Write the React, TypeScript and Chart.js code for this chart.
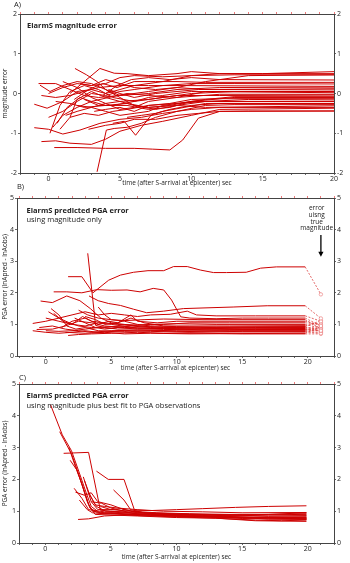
import React, { useEffect, useRef } from 'react';
import { Chart, registerables } from 'chart.js';
Chart.register(...registerables);

type Pt = [number, number];

const FONT = '"Open Sans", "DejaVu Sans", sans-serif';

// ---------- tick labels ----------
const magnitudeTicks = [-2, -1, 0, 1, 2];
const pgaTicks = [0, 1, 2, 3, 4, 5];
const timeLabelTicks = [0, 5, 10, 15, 20];

// ---------- Panel A : magnitude error vs time ----------
const magnitudeErrorSeries: Pt[][] = [
  [[-1.0, -0.27], [-0.1, -0.37], [1, -0.2], [2, 0.05], [3, 0.1], [4, 0.0], [5, 0.1], [6, 0.2], [8, 0.3], [10, 0.45], [12, 0.5], [15, 0.5], [20, 0.55]],
  [[-0.6, 0.21], [0.1, 0.05], [1, 0.2], [2, 0.3], [3, 0.25], [4, 0.1], [5, -0.05], [7, 0.05], [9, 0.15], [11, 0.3], [14, 0.45], [20, 0.47]],
  [[0.1, -1.0], [0.8, -0.3], [1.5, 0.05], [2.5, 0.2], [3.5, 0.1], [4.5, -0.1], [6, -0.2], [8, -0.1], [10, 0.0], [13, 0.05], [20, 0.05]],
  [[-1.0, -0.86], [0, -0.9], [1, -1.02], [2.2, -0.92], [3.6, -0.75], [5, -0.65], [6.5, -0.6], [8, -0.5], [10, -0.4], [12, -0.35], [20, -0.35]],
  [[-0.5, -1.21], [0.5, -1.19], [1.5, -1.25], [3, -1.28], [4, -1.15], [5, -0.95], [6.5, -0.8], [8, -0.7], [10, -0.55], [12, -0.4], [20, -0.37]],
  [[0.4, -1.36], [2, -1.36], [4, -1.38], [6, -1.38], [7.3, -1.4], [8.5, -1.42], [9.4, -1.17], [10.5, -0.62], [12, -0.45], [14, -0.44], [20, -0.44]],
  [[3.4, -1.97], [4.05, -0.92], [4.6, -0.88], [5.5, -0.85], [6.5, -0.75], [7.5, -0.6], [9, -0.45], [11, -0.3], [13, -0.28], [20, -0.28]],
  [[1.85, 0.63], [2.66, 0.47], [3.4, 0.3], [4, 0.1], [5, -0.1], [6, -0.3], [7, -0.35], [9, -0.3], [11, -0.2], [14, -0.15], [20, -0.16]],
  [[1.5, 0.0], [2.5, 0.3], [3.6, 0.63], [4.6, 0.51], [5.5, 0.5], [7, 0.45], [9, 0.5], [10, 0.55], [12, 0.5], [15, 0.5], [20, 0.5]],
  [[4.5, -0.75], [5.3, -0.7], [6.1, -1.05], [7.2, -0.54], [8, -0.45], [9.5, -0.35], [11, -0.25], [20, -0.25]],
  [[-0.7, 0.25], [0.5, 0.25], [1.5, 0.1], [2.5, -0.05], [3.5, -0.1], [5, -0.05], [7, 0.0], [9, 0.1], [12, 0.15], [20, 0.16]],
  [[0.5, -0.2], [1.5, -0.25], [2.5, -0.35], [4, -0.3], [5.5, -0.25], [7, -0.35], [8.5, -0.3], [10, -0.2], [13, -0.1], [20, -0.1]],
  [[1, 0.3], [2, 0.15], [3, -0.1], [4, -0.25], [5, -0.2], [6, -0.3], [7.5, -0.4], [9, -0.3], [11, -0.35], [20, -0.31]],
  [[0, -0.6], [1, -0.45], [2, -0.2], [3, 0.0], [4, -0.05], [5, 0.05], [6, 0.1], [8, 0.2], [10, 0.25], [13, 0.25], [20, 0.24]],
  [[1.5, -0.6], [2.5, -0.5], [3.5, -0.55], [4.5, -0.45], [5.5, -0.4], [7, -0.3], [9, -0.25], [11, -0.2], [20, -0.2]],
  [[2.2, 0.25], [3, 0.2], [4, 0.35], [5, 0.25], [6, 0.15], [7.5, 0.1], [9, 0.15], [11, 0.1], [20, 0.09]],
  [[0.8, -0.9], [1.5, -0.6], [2, -0.15], [3, 0.05], [4, -0.1], [5, -0.2], [7, -0.15], [9, -0.05], [12, -0.05], [20, -0.04]],
  [[3.8, -0.05], [4.8, 0.2], [5.8, 0.35], [7, 0.4], [8.5, 0.35], [10, 0.4], [12, 0.35], [20, 0.34]],
  [[2.5, -0.15], [3.5, -0.3], [4.5, -0.3], [6, -0.2], [7, -0.1], [8, -0.05], [10, 0.05], [20, 0.02]],
  [[-0.5, -0.05], [0.5, -0.1], [1.5, -0.05], [2.5, 0.05], [3.5, 0.15], [5, 0.2], [7, 0.2], [9, 0.2], [20, 0.18]],
  [[3.2, -0.45], [4, -0.4], [5, -0.35], [6, -0.45], [7, -0.3], [8.5, -0.25], [10, -0.15], [12, -0.13], [20, -0.13]],
  [[1.2, -0.55], [2, -0.45], [3, -0.35], [4, -0.45], [5, -0.55], [6, -0.5], [7, -0.45], [8, -0.3], [9, -0.25], [11, -0.15], [13, -0.08], [20, -0.08]],
  [[0.3, -0.85], [1, -0.55], [2, -0.35], [3, -0.2], [4, -0.3], [5.5, -0.3], [7, -0.4], [8.5, -0.35], [10, -0.2], [20, -0.2]],
  [[2, -0.3], [3, -0.35], [4, -0.25], [5, -0.4], [6, -0.35], [7, -0.2], [9, -0.1], [11, 0.05], [20, 0.05]],
  [[4.2, 0.1], [5, 0.0], [6, -0.1], [7.5, 0.0], [9, 0.05], [10.5, 0.1], [20, 0.12]],
  [[2.8, -0.9], [4, -0.8], [5, -0.75], [6, -0.65], [7.5, -0.65], [9, -0.55], [10.5, -0.5], [12, -0.45], [20, -0.44]],
  [[0, 0.0], [1, 0.15], [2, 0.25], [3, 0.2], [4, 0.25], [5, 0.4], [6, 0.45], [8, 0.42], [10, 0.45], [13, 0.47], [20, 0.47]],
  [[0.6, -0.75], [1.3, -0.35], [2.2, -0.1], [3, -0.2], [4.2, -0.1], [5.5, 0.0], [7, -0.05], [9, -0.1], [12, -0.02], [20, -0.02]],
  [[5.5, -0.6], [6.5, -0.55], [7.5, -0.5], [8.5, -0.4], [10, -0.3], [12, -0.25], [20, -0.25]],
  [[1.8, -0.15], [2.8, 0.1], [3.8, 0.25], [4.8, 0.15], [6, 0.3], [7.5, 0.3], [9, 0.3], [11, 0.28], [20, 0.28]],
];

// ---------- Panel B : PGA error, magnitude only ----------
const pgaMagOnlySeries: Pt[][] = [
  [[1.7, 2.51], [2.75, 2.51], [3.6, 2.0], [4.8, 2.4], [5.7, 2.56], [6.7, 2.65], [7.8, 2.7], [9, 2.7], [9.75, 2.83], [10.8, 2.83], [11.8, 2.72], [12.8, 2.64], [13.8, 2.64], [15.3, 2.65], [16.4, 2.78], [17.6, 2.82], [19.8, 2.82]],
  [[3.2, 3.25], [3.8, 0.97], [4.5, 0.9], [5.5, 0.85], [7, 0.86], [9, 0.84], [12, 0.83], [16, 0.84], [19.8, 0.84]],
  [[0.6, 2.03], [1.6, 2.03], [2.75, 2.0], [3.9, 2.1], [5, 2.08], [6.2, 2.09], [7.2, 2.03], [8.2, 2.14], [9, 2.09], [9.6, 1.77], [10.3, 1.24], [11, 1.2], [13, 1.18], [15, 1.2], [17, 1.2], [19.8, 1.2]],
  [[-0.4, 1.74], [0.5, 1.69], [1.6, 1.9], [2.6, 1.75], [3.4, 1.5], [4.2, 1.2], [5, 1.05], [6, 1.0], [7, 0.95], [9, 0.9], [12, 0.88], [15, 0.85], [19.8, 0.85]],
  [[3.3, 1.9], [4.0, 1.75], [4.8, 1.66], [5.7, 1.6], [6.7, 1.48], [7.7, 1.37], [9, 1.42], [10.5, 1.5], [12, 1.52], [14.3, 1.55], [16.9, 1.59], [19.8, 1.59]],
  [[-1, 1.03], [0, 1.1], [1, 1.2], [2, 1.3], [3, 1.4], [4, 1.3], [5, 1.35], [6, 1.3], [7, 1.25], [8, 1.3], [9.5, 1.32], [10.8, 1.42], [11.5, 1.3], [13, 1.27], [16, 1.27], [19.8, 1.27]],
  [[-0.7, 0.84], [0.5, 0.85], [1.5, 0.95], [2.5, 1.1], [3.5, 1.05], [4.5, 0.95], [6, 0.9], [8, 0.92], [10, 0.9], [12, 0.88], [16, 0.9], [19.8, 0.9]],
  [[0.4, 1.5], [1, 1.3], [1.6, 0.95], [2.3, 0.85], [3, 0.9], [4, 0.8], [6, 0.78], [8, 0.8], [10, 0.78], [14, 0.76], [19.8, 0.76]],
  [[0.6, 1.35], [1.3, 1.1], [2, 1.0], [2.8, 1.25], [3.5, 1.1], [4.5, 1.05], [5.5, 1.0], [7, 0.98], [9, 1.0], [11, 1.05], [14, 1.05], [19.8, 1.05]],
  [[1.7, 0.65], [2.5, 0.68], [3.5, 0.7], [5, 0.72], [7, 0.75], [9, 0.72], [12, 0.72], [15, 0.7], [19.8, 0.7]],
  [[0, 0.8], [1, 0.78], [2, 0.8], [3, 0.85], [4, 0.9], [5, 0.88], [6.5, 0.95], [8, 0.9], [10, 0.85], [13, 0.82], [19.8, 0.82]],
  [[-1, 0.8], [0, 0.75], [1, 0.72], [2, 0.75], [3, 0.8], [4, 0.75], [6, 0.8], [8, 0.78], [11, 0.75], [15, 0.78], [19.8, 0.78]],
  [[1.2, 0.9], [2, 1.1], [3, 1.2], [4, 1.0], [4.8, 1.1], [5.5, 1.05], [6.5, 1.2], [7.5, 1.05], [9, 0.95], [11, 0.95], [14, 0.95], [19.8, 0.96]],
  [[2.2, 1.2], [3, 1.05], [3.8, 0.9], [4.5, 0.85], [5.5, 0.9], [7, 0.85], [9, 0.88], [12, 0.9], [19.8, 0.92]],
  [[0.2, 1.4], [1, 1.2], [1.8, 1.05], [2.5, 0.95], [3.5, 0.9], [4.5, 0.92], [6, 0.95], [8, 1.0], [10, 1.02], [13, 1.0], [19.8, 1.0]],
  [[3, 1.25], [3.8, 1.15], [4.5, 1.0], [5.5, 1.05], [6.5, 1.3], [7, 1.1], [8.5, 1.05], [10, 1.1], [12, 1.1], [19.8, 1.1]],
  [[-0.5, 0.9], [0.5, 0.95], [1.5, 0.85], [2.5, 0.8], [3.5, 0.75], [5, 0.8], [7, 0.82], [10, 0.8], [14, 0.8], [19.8, 0.8]],
  [[4, 1.55], [4.5, 1.3], [5, 1.15], [6, 1.1], [7, 1.0], [8, 0.95], [10, 0.93], [13, 0.92], [19.8, 0.93]],
  [[1.5, 0.75], [3, 0.72], [4.5, 0.75], [6, 0.7], [8, 0.72], [11, 0.7], [19.8, 0.72]],
  [[2.5, 1.45], [3.2, 1.3], [4, 1.2], [5, 1.15], [6, 1.12], [7.5, 1.15], [9, 1.17], [12, 1.15], [19.8, 1.15]],
  [[0, 1.2], [1, 1.1], [2, 1.0], [3, 0.95], [4, 1.05], [5, 1.0], [7, 0.88], [9, 0.87], [12, 0.86], [19.8, 0.87]],
];
// error using true magnitude (plotted at trueMagTime), one per series above
const trueMagTime = 21;
const pgaTrueMagError = [1.95, 0.8, 0.95, 0.8, 1.19, 1.1, 0.85, 0.72, 1.0, 0.7, 0.9, 0.75, 1.05, 0.78, 0.88, 0.98, 0.82, 1.12, 0.92, 0.86, 0.95];

// ---------- Panel C : PGA error, magnitude + best fit ----------
const pgaBestFitSeries: Pt[][] = [
  [[0.4, 4.35], [1.3, 3.4], [2.0, 2.9], [2.6, 2.2], [3.1, 1.6], [3.5, 1.15], [4.2, 0.93], [5, 0.95], [6, 0.9], [8, 0.88], [10, 0.85], [12, 0.82], [15, 0.8], [17, 0.75], [19.9, 0.75]],
  [[1.1, 3.5], [2.0, 2.8], [2.6, 2.1], [3.2, 1.3], [3.6, 1.0], [4.5, 0.95], [6, 0.92], [8, 0.9], [11, 0.9], [14, 0.88], [17, 0.85], [19.9, 0.86]],
  [[1.4, 2.82], [3.3, 2.85], [4.2, 1.03], [5, 1.0], [6.5, 0.95], [9, 0.92], [12, 0.9], [15, 0.88], [19.9, 0.9]],
  [[3.9, 2.26], [4.8, 2.0], [6.0, 2.0], [6.8, 1.03], [8, 1.02], [10, 1.05], [12, 1.08], [14.5, 1.12], [17, 1.15], [19.9, 1.17]],
  [[5.2, 1.67], [6.0, 1.35], [6.5, 1.05], [7.5, 0.95], [9.5, 0.9], [12, 0.85], [15, 0.8], [18, 0.78], [19.9, 0.78]],
  [[2.2, 1.72], [2.8, 1.4], [3.3, 1.05], [4.5, 0.98], [6, 0.95], [8, 0.9], [11, 0.85], [14, 0.82], [17, 0.8], [19.9, 0.82]],
  [[2.9, 2.08], [3.5, 1.3], [4, 1.05], [5, 1.05], [6.5, 1.0], [8.5, 0.95], [11, 0.92], [14, 0.9], [17, 0.9], [19.9, 0.92]],
  [[2.5, 0.74], [3.3, 0.76], [4.5, 0.85], [6, 0.88], [8, 0.85], [10, 0.82], [13, 0.78], [16, 0.72], [18, 0.7], [19.9, 0.72]],
  [[2.3, 1.6], [3, 1.5], [3.5, 1.58], [4, 1.3], [5, 1.2], [6, 1.05], [7.5, 0.95], [10, 0.9], [13, 0.85], [16, 0.8], [19.9, 0.8]],
  [[3.3, 1.6], [3.8, 1.2], [4.5, 1.15], [5.5, 1.1], [7, 1.05], [9, 1.0], [12, 0.98], [15, 0.95], [19.9, 0.96]],
  [[1.8, 3.0], [2.3, 2.4], [2.8, 1.85], [3.3, 1.2], [3.8, 0.9], [5, 0.88], [7, 0.85], [10, 0.8], [13, 0.78], [16, 0.7], [19.9, 0.68]],
  [[3.5, 1.3], [4.3, 1.25], [5, 1.1], [6, 1.0], [7, 0.9], [9, 0.85], [12, 0.82], [15, 0.77], [19.9, 0.74]],
  [[4.2, 1.15], [5, 1.05], [5.8, 1.08], [7, 0.95], [9, 0.9], [11, 0.88], [14, 0.86], [17, 0.84], [19.9, 0.85]],
  [[2.6, 1.35], [3.2, 1.05], [3.6, 0.95], [4.5, 0.92], [6, 0.9], [8, 0.88], [11, 0.83], [14, 0.8], [17, 0.78], [19.9, 0.76]],
  [[3.0, 1.95], [3.4, 1.5], [3.9, 1.15], [4.6, 1.0], [6, 0.98], [8, 0.95], [11, 0.9], [14, 0.88], [17, 0.9], [19.9, 0.95]],
  [[1.9, 2.6], [2.4, 2.3], [3, 1.6], [3.4, 1.1], [4, 0.95], [5.5, 0.92], [7.5, 0.88], [10, 0.86], [13, 0.83], [16, 0.8], [19.9, 0.78]],
];

const LINE_RED = 'rgb(205, 0, 0)';
const DASH_RED = 'rgba(222, 70, 70, 0.9)';
const AXIS = '#444';
const TEXT = '#222';

interface PanelCfg {
  height: number;
  plotTop: number;
  plotBottom: number;
  left: number;
  right: number;
  xMin: number;
  xMax: number;
  yMin: number;
  yMax: number;
  yTicks: number[];
  yTitle: string;
  xTitlePad: number;
  datasets: any[];
  plugins?: any[];
}

function lineDataset(pts: Pt[]) {
  return {
    data: pts.map(([x, y]) => ({ x, y })),
    borderColor: LINE_RED,
    borderWidth: 1,
    pointRadius: 0,
    fill: false,
    tension: 0,
    xAxisID: 'x',
    yAxisID: 'y',
  };
}

function buildConfig(p: PanelCfg): any {
  const tickFont = { family: FONT, size: 7 };
  const yCommon = (pos: 'left' | 'right', width: number) => ({
    type: 'linear',
    position: pos,
    axis: 'y',
    min: p.yMin,
    max: p.yMax,
    afterFit: (s: any) => { s.width = width; },
    ticks: {
      stepSize: 1,
      autoSkip: false,
      font: tickFont,
      color: TEXT,
      padding: 1,
      callback: (v: any) => (p.yTicks.includes(Number(v)) ? String(v) : ''),
    },
    grid: { drawOnChartArea: false, drawTicks: true, tickLength: 2, color: AXIS, lineWidth: 0.8 },
    border: { display: true, color: AXIS, width: 1 },
  });
  const yLeft: any = yCommon('left', p.left);
  yLeft.title = {
    display: true,
    text: p.yTitle,
    font: { family: FONT, size: 6.5 },
    color: TEXT,
    padding: { top: 1, bottom: 0 },
  };
  return {
    type: 'line',
    data: { datasets: p.datasets },
    options: {
      animation: false,
      responsive: false,
      maintainAspectRatio: false,
      events: [],
      layout: { padding: 0 },
      plugins: { legend: { display: false }, tooltip: { enabled: false }, title: { display: false } },
      scales: {
        x: {
          type: 'linear',
          position: 'bottom',
          min: p.xMin,
          max: p.xMax,
          afterFit: (s: any) => { s.height = p.height - p.plotBottom; },
          ticks: {
            stepSize: 1,
            autoSkip: false,
            maxRotation: 0,
            includeBounds: false,
            font: tickFont,
            color: TEXT,
            padding: 0,
            callback: (v: any) => (timeLabelTicks.includes(Number(v)) ? String(v) : ''),
          },
          grid: { drawOnChartArea: false, drawTicks: true, tickLength: 2, color: AXIS, lineWidth: 0.8 },
          border: { display: true, color: AXIS, width: 1 },
          title: {
            display: true,
            text: 'time (after S-arrival at epicenter) sec',
            font: { family: FONT, size: 6.5 },
            color: TEXT,
            padding: { top: 0, bottom: p.xTitlePad },
          },
        },
        xTop: {
          type: 'linear',
          axis: 'x',
          position: 'top',
          min: p.xMin,
          max: p.xMax,
          afterFit: (s: any) => { s.height = p.plotTop; },
          ticks: { display: false, stepSize: 1, autoSkip: false, includeBounds: false },
          grid: { drawOnChartArea: false, drawTicks: true, tickLength: 2, color: 'rgba(230, 70, 70, 0.9)', lineWidth: 0.8 },
          border: { display: true, color: AXIS, width: 1 },
        },
        y: yLeft,
        yRight: yCommon('right', 350 - p.right),
      },
    },
    plugins: p.plugins || [],
  };
}

const arrowPlugin = {
  id: 'trueMagArrow',
  afterDatasetsDraw(chart: any) {
    const xs = chart.scales.x;
    const ys = chart.scales.y;
    const x = xs.getPixelForValue(trueMagTime);
    const y0 = ys.getPixelForValue(3.83);
    const y1 = ys.getPixelForValue(3.14);
    const ctx = chart.ctx;
    ctx.save();
    ctx.strokeStyle = '#000';
    ctx.fillStyle = '#000';
    ctx.lineWidth = 1.3;
    ctx.beginPath();
    ctx.moveTo(x, y0);
    ctx.lineTo(x, y1 - 4);
    ctx.stroke();
    ctx.beginPath();
    ctx.moveTo(x - 2.6, y1 - 5);
    ctx.lineTo(x + 2.6, y1 - 5);
    ctx.lineTo(x, y1);
    ctx.closePath();
    ctx.fill();
    ctx.restore();
  },
};

const panelA: PanelCfg = {
  height: 187, plotTop: 14, plotBottom: 173, left: 20, right: 334,
  xMin: -2, xMax: 20, yMin: -2, yMax: 2, yTicks: magnitudeTicks,
  yTitle: 'magnitude error', xTitlePad: 0,
  datasets: magnitudeErrorSeries.map(lineDataset),
};

const panelB: PanelCfg = {
  height: 185, plotTop: 11, plotBottom: 169, left: 17, right: 334,
  xMin: -2.2, xMax: 22, yMin: 0, yMax: 5, yTicks: pgaTicks,
  yTitle: 'PGA error (lnApred - lnAobs)', xTitlePad: 0,
  datasets: [
    ...pgaMagOnlySeries.map(lineDataset),
    ...pgaMagOnlySeries.map((s, i) => ({
      data: [
        { x: s[s.length - 1][0], y: s[s.length - 1][1] },
        { x: trueMagTime, y: pgaTrueMagError[i] },
      ],
      borderColor: DASH_RED,
      borderWidth: 0.9,
      borderDash: [2, 1.5],
      pointRadius: [0, 1.7],
      pointBorderWidth: 0.7,
      pointBorderColor: 'rgba(235, 120, 120, 0.9)',
      pointBackgroundColor: '#fff',
      fill: false,
      tension: 0,
      xAxisID: 'x',
      yAxisID: 'y',
    })),
  ],
  plugins: [arrowPlugin],
};

const panelC: PanelCfg = {
  height: 191, plotTop: 12, plotBottom: 171, left: 19, right: 334,
  xMin: -2, xMax: 22, yMin: 0, yMax: 5, yTicks: pgaTicks,
  yTitle: 'PGA error (lnApred - lnAobs)', xTitlePad: 1.7,
  datasets: pgaBestFitSeries.map(lineDataset),
};

function Panel({ cfg, top }: { cfg: PanelCfg; top: number }) {
  const ref = useRef<HTMLCanvasElement | null>(null);
  useEffect(() => {
    if (!ref.current) return;
    const chart = new Chart(ref.current, buildConfig(cfg));
    return () => chart.destroy();
  }, [cfg]);
  return (
    <canvas
      ref={ref}
      width={350}
      height={cfg.height}
      style={{ position: 'absolute', left: 0, top, width: 350, height: cfg.height }}
    />
  );
}

const label = (left: number, top: number, size: number, bold = false): React.CSSProperties => ({
  position: 'absolute', left, top, fontFamily: FONT, fontSize: size, fontWeight: bold ? 700 : 400,
  color: TEXT, lineHeight: 1, whiteSpace: 'nowrap',
});

export default function App() {
  return (
    <div style={{ position: 'fixed', left: 0, top: 0, width: 350, height: 563, background: '#fff', overflow: 'hidden' }}>
      <Panel cfg={panelA} top={0} />
      <Panel cfg={panelB} top={187} />
      <Panel cfg={panelC} top={372} />

      <div style={label(14, 1, 7.5)}>A)</div>
      <div style={label(27, 21.5, 7.5, true)}>ElarmS magnitude error</div>

      <div style={label(17, 182.5, 7.5)}>B)</div>
      <div style={label(26.5, 206.5, 7.5, true)}>ElarmS predicted PGA error</div>
      <div style={label(26.5, 215.5, 7.5)}>using magnitude only</div>
      <div style={{ ...label(286.7, 205, 6.5), width: 60, textAlign: 'center', lineHeight: '6.8px' }}>
        error<br />uisng<br />true<br />magnitude
      </div>

      <div style={label(19, 373.5, 7.5)}>C)</div>
      <div style={label(26.5, 392, 7.5, true)}>ElarmS predicted PGA error</div>
      <div style={label(26.5, 401.5, 7.5)}>using magnitude plus best fit to PGA observations</div>
    </div>
  );
}
